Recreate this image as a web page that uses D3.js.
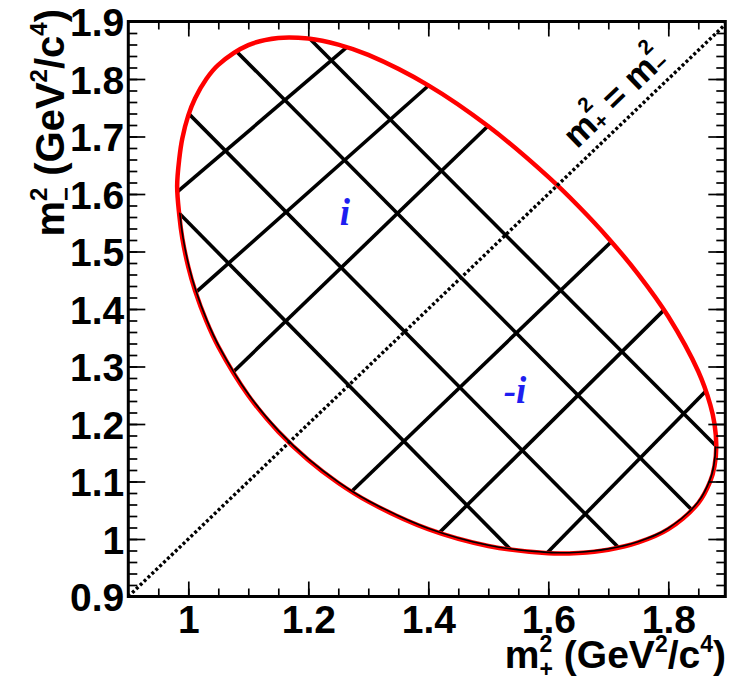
<!DOCTYPE html>
<html>
<head>
<meta charset="utf-8">
<script src="https://cdn.jsdelivr.net/npm/d3@7"></script>
<style>
  html, body { margin: 0; padding: 0; background: #fff; }
  svg { display: block; }
</style>
</head>
<body>
<svg id="chart" width="730" height="681"></svg>
<script>
// Kinematic boundary of D0 -> KS K+ K- in the (m+^2, m-^2) plane, GeV^2/c^4
// (points run clockwise, starting at the smallest m+^2)
const boundaryMp = [0.9814,0.985,0.99,1.0,1.0112,1.03,1.05,1.1,1.15,1.2,1.25,1.3,1.4,1.5,1.6,1.65,1.7,1.75,1.8,1.85,1.87,1.877,1.880,1.877,1.87,1.85,1.8,1.75,1.7,1.65,1.6,1.5,1.4,1.3,1.25,1.2,1.15,1.1,1.05,1.03,1.0112,1.0,0.99,0.985];
const boundaryMm = [1.6137,1.6617,1.6966,1.7368,1.7662,1.8001,1.8246,1.8589,1.8714,1.8703,1.8598,1.8419,1.7890,1.7177,1.6297,1.5791,1.5232,1.4603,1.3870,1.2913,1.2334,1.2002,1.1619,1.1267,1.1005,1.0625,1.0171,0.9940,0.9814,0.9757,0.9753,0.9879,1.0171,1.0650,1.0974,1.1373,1.1867,1.2496,1.3345,1.3792,1.4322,1.4730,1.5232,1.5632];

// Bin edges running down-right (start / end on the boundary)
const sumEdgeX0 = [1.2062, 1.0812, 0.9995, 0.9828];
const sumEdgeY0 = [1.8661, 1.8470, 1.7409, 1.5687];
const sumEdgeX1 = [1.8812, 1.8395, 1.7162, 1.5412];
const sumEdgeY1 = [1.1600, 1.0504, 0.9861, 0.9774];

// Bin edges running up-right
const diffEdgeX0 = [0.9795, 1.0112, 1.0695, 1.2695, 1.4178, 1.5995];
const diffEdgeY0 = [1.6017, 1.4278, 1.2852, 1.0800, 1.0104, 0.9774];
const diffEdgeX1 = [1.2628, 1.3995, 1.4995, 1.7028, 1.7895, 1.8612];
const diffEdgeY1 = [1.8539, 1.7878, 1.7183, 1.5148, 1.3948, 1.2557];

// Axis ticks
const xMajorTicks = [1.0, 1.2, 1.4, 1.6, 1.8];
const xTickLabels = ["1", "1.2", "1.4", "1.6", "1.8"];
const yMajorTicks = [0.9, 1.0, 1.1, 1.2, 1.3, 1.4, 1.5, 1.6, 1.7, 1.8, 1.9];
const yTickLabels = ["0.9", "1", "1.1", "1.2", "1.3", "1.4", "1.5", "1.6", "1.7", "1.8", "1.9"];

// Bin labels
const binLabelText = ["i", "-i"];
const binLabelMp = [1.261, 1.5445];
const binLabelMm = [1.567, 1.259];

const FONT = "'Liberation Sans', Arial, Helvetica, sans-serif";
const svg = d3.select("#chart");

const xMin = 0.9, xMax = 1.895, yMin = 0.9, yMax = 1.9;
const x = d3.scaleLinear().domain([xMin, xMax]).range([128.3, 725.3]);
const y = d3.scaleLinear().domain([yMin, yMax]).range([596.5, 21.5]);

const defs = svg.append("defs");

// Closed boundary curve
const boundaryPts = boundaryMp.map((v, i) => [x(v), y(boundaryMm[i])]);
const closedLine = d3.line().curve(d3.curveCatmullRomClosed.alpha(0.5));
const boundaryD = closedLine(boundaryPts);

defs.append("clipPath").attr("id", "inside")
  .append("path").attr("d", boundaryD);

defs.append("clipPath").attr("id", "frameClip")
  .append("rect")
  .attr("x", x(xMin)).attr("y", y(yMax))
  .attr("width", x(xMax) - x(xMin)).attr("height", y(yMin) - y(yMax));

// Lower part of the boundary (below the chord joining the outermost bin edges)
const chordA = [x(sumEdgeX0[3]), y(sumEdgeY0[3])];
const chordB = [x(sumEdgeX1[0]), y(sumEdgeY1[0])];
defs.append("clipPath").attr("id", "lowerPart")
  .append("polygon")
  .attr("points", [
    chordA, chordB, [x(xMax) + 10, chordB[1]], [x(xMax) + 10, y(yMin) + 10],
    [x(xMin) - 10, y(yMin) + 10], [x(xMin) - 10, chordA[1]]
  ].map(p => p.join(",")).join(" "));

// Bin edges, extended slightly and clipped by the boundary
function extend(p0, p1, f) {
  const dx = p1[0] - p0[0], dy = p1[1] - p0[1];
  return [[p0[0] - dx * f, p0[1] - dy * f], [p1[0] + dx * f, p1[1] + dy * f]];
}
const edges = [];
sumEdgeX0.forEach((v, i) => edges.push(extend([x(v), y(sumEdgeY0[i])], [x(sumEdgeX1[i]), y(sumEdgeY1[i])], 0.04)));
diffEdgeX0.forEach((v, i) => edges.push(extend([x(v), y(diffEdgeY0[i])], [x(diffEdgeX1[i]), y(diffEdgeY1[i])], 0.04)));

const gridG = svg.append("g").attr("clip-path", "url(#inside)");
gridG.selectAll("line").data(edges).join("line")
  .attr("x1", d => d[0][0]).attr("y1", d => d[0][1])
  .attr("x2", d => d[1][0]).attr("y2", d => d[1][1])
  .attr("stroke", "#000").attr("stroke-width", 3.6).attr("stroke-linecap", "butt");

// Red boundary
svg.append("path").attr("d", boundaryD)
  .attr("fill", "none").attr("stroke", "#ff0000").attr("stroke-width", 4.5);

// Inner black edge along the lower part of the boundary
svg.append("g").attr("clip-path", "url(#inside)")
  .append("g").attr("clip-path", "url(#lowerPart)")
  .append("path").attr("d", boundaryD)
  .attr("fill", "none").attr("stroke", "#000").attr("stroke-width", 3.2);

// Diagonal m+^2 = m-^2
svg.append("g").attr("clip-path", "url(#frameClip)")
  .append("line")
  .attr("x1", x(0.9)).attr("y1", y(0.9))
  .attr("x2", x(1.9)).attr("y2", y(1.9))
  .attr("stroke", "#000").attr("stroke-width", 3.4)
  .attr("stroke-dasharray", "3,2.4");

// Frame
svg.append("rect")
  .attr("x", x(xMin)).attr("y", y(yMax))
  .attr("width", x(xMax) - x(xMin)).attr("height", y(yMin) - y(yMax))
  .attr("fill", "none").attr("stroke", "#000").attr("stroke-width", 3);

// Axes (ticks drawn inward on all four sides)
const xMinor = d3.range(20).map(i => 0.9 + 0.05 * i).filter(v => v > xMin + 1e-6 && v < xMax);
const yMinor = d3.range(51).map(i => 0.9 + 0.02 * i).filter(v => v > yMin + 1e-6 && v < yMax - 1e-6);

function tidy(g) {
  g.select(".domain").remove();
  g.selectAll(".tick line").attr("stroke", "#000").attr("stroke-width", 1.7);
}

svg.append("g").attr("transform", `translate(0,${y(yMin)})`)
  .call(d3.axisBottom(x).tickValues(xMinor).tickSize(-8).tickFormat("")).call(tidy);
svg.append("g").attr("transform", `translate(0,${y(yMax)})`)
  .call(d3.axisTop(x).tickValues(xMinor).tickSize(-8).tickFormat("")).call(tidy);
svg.append("g").attr("transform", `translate(0,${y(yMax)})`)
  .call(d3.axisTop(x).tickValues(xMajorTicks).tickSize(-15).tickFormat("")).call(tidy);

const LABEL_SIZE = 39;
const xAxisG = svg.append("g").attr("transform", `translate(0,${y(yMin)})`)
  .call(d3.axisBottom(x).tickValues(xMajorTicks).tickSize(-15)
    .tickFormat((d, i) => xTickLabels[i])).call(tidy);
xAxisG.selectAll(".tick text")
  .attr("y", 36).attr("dy", null)
  .attr("font-family", FONT).attr("font-size", LABEL_SIZE).attr("font-weight", "bold").attr("fill", "#000");

svg.append("g").attr("transform", `translate(${x(xMin)},0)`)
  .call(d3.axisLeft(y).tickValues(yMinor).tickSize(-9).tickFormat("")).call(tidy);
svg.append("g").attr("transform", `translate(${x(xMax)},0)`)
  .call(d3.axisRight(y).tickValues(yMinor).tickSize(-9).tickFormat("")).call(tidy);
svg.append("g").attr("transform", `translate(${x(xMax)},0)`)
  .call(d3.axisRight(y).tickValues(yMajorTicks).tickSize(-17).tickFormat("")).call(tidy);

const yAxisG = svg.append("g").attr("transform", `translate(${x(xMin)},0)`)
  .call(d3.axisLeft(y).tickValues(yMajorTicks).tickSize(-17)
    .tickFormat((d, i) => yTickLabels[i])).call(tidy);
yAxisG.selectAll(".tick text")
  .attr("x", -4).attr("dy", 14)
  .attr("font-family", FONT).attr("font-size", LABEL_SIZE).attr("font-weight", "bold").attr("fill", "#000");

// Mass-squared text with stacked superscript "2" and a sign subscript
function massSymbol(sel, sign, size) {
  const s = Math.round(size * 0.6);
  const w2 = s * 0.556;
  sel.append("tspan").text("m");
  sel.append("tspan").attr("font-size", s).attr("dy", -size * 0.42).text("2");
  sel.append("tspan").attr("font-size", s).attr("dx", -w2).attr("dy", size * 0.66).text(sign);
}
function massTitle(sel, sign, size) {
  massSymbol(sel, sign, size);
  sel.append("tspan").attr("dy", -size * 0.24).text(" (GeV");
  sel.append("tspan").attr("font-size", Math.round(size * 0.6)).attr("dy", -size * 0.42).text("2");
  sel.append("tspan").attr("dy", size * 0.42).text("/c");
  sel.append("tspan").attr("font-size", Math.round(size * 0.6)).attr("dy", -size * 0.42).text("4");
  sel.append("tspan").attr("dy", size * 0.42).text(")");
}

const TITLE_SIZE = 39;
svg.append("text")
  .attr("x", 726).attr("y", 668)
  .attr("text-anchor", "end")
  .attr("font-family", FONT).attr("font-size", TITLE_SIZE).attr("font-weight", "bold")
  .call(massTitle, "+", TITLE_SIZE);

svg.append("text")
  .attr("transform", "translate(64,9) rotate(-90)")
  .attr("text-anchor", "end")
  .attr("font-family", FONT).attr("font-size", 40).attr("font-weight", "bold")
  .call(massTitle, "\u2212", 40);

// Label along the diagonal
const DIAG_SIZE = 35;
const diagAngle = Math.atan2(y(1.9) - y(0.9), x(1.9) - x(0.9)) * 180 / Math.PI;
const diagLabel = svg.append("text")
  .attr("transform", `translate(${x(1.709)},${y(1.770)}) rotate(${diagAngle})`)
  .attr("text-anchor", "middle")
  .attr("dominant-baseline", "central")
  .attr("font-family", FONT).attr("font-size", DIAG_SIZE).attr("font-weight", "bold");
diagLabel.call(massSymbol, "+", DIAG_SIZE);
diagLabel.append("tspan").attr("dy", -DIAG_SIZE * 0.24).text(" = ");
diagLabel.call(massSymbol, "\u2212", DIAG_SIZE);

// Bin labels
svg.selectAll("text.bin").data(binLabelText).join("text")
  .attr("class", "bin")
  .attr("x", (d, i) => x(binLabelMp[i]))
  .attr("y", (d, i) => y(binLabelMm[i]))
  .attr("text-anchor", "middle")
  .attr("dominant-baseline", "central")
  .attr("font-family", "'Liberation Serif', 'Times New Roman', serif")
  .attr("font-style", "italic").attr("font-weight", "bold")
  .attr("font-size", 37)
  .attr("fill", "#1e1ef0")
  .text(d => d);
</script>
</body>
</html>
